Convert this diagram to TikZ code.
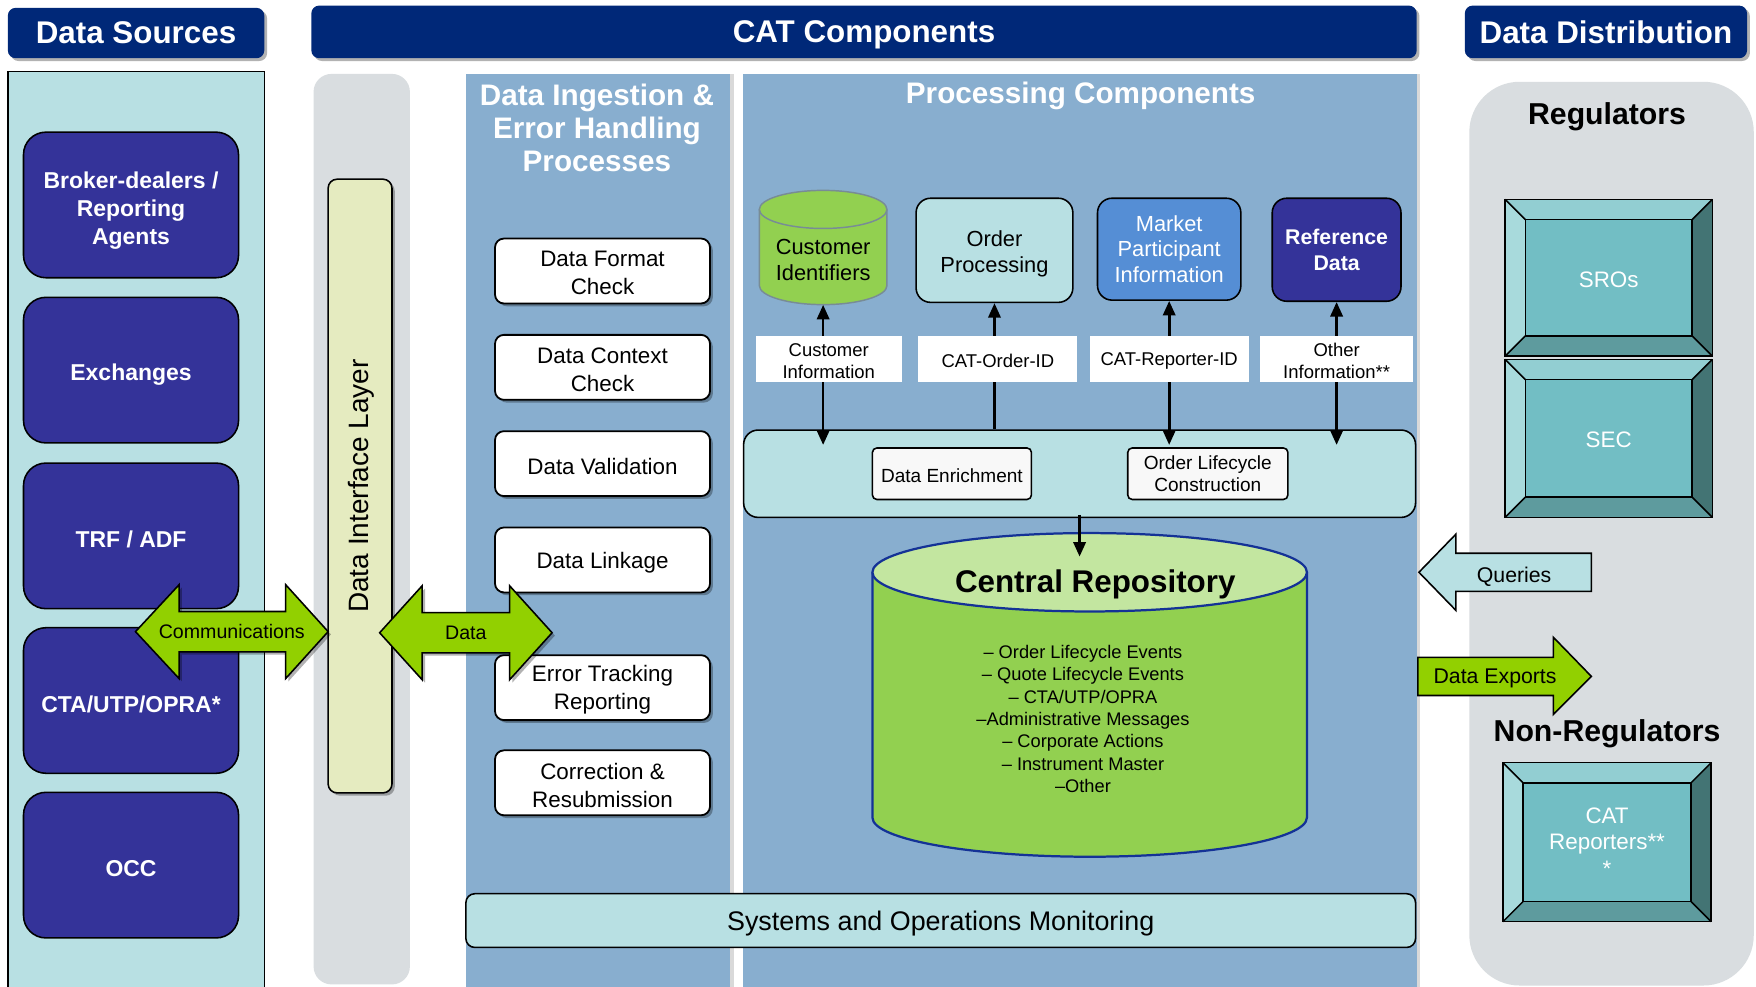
\documentclass[tikz,border=0pt]{standalone}
\usepackage{fontspec}
\setmainfont{Liberation Sans}
\usetikzlibrary{shadows,arrows.meta,calc}

\definecolor{hdrblue}{RGB}{0,40,120}
\definecolor{srcblue}{RGB}{52,51,153}
\definecolor{lcyan}{RGB}{184,224,227}
\definecolor{panelblue}{RGB}{136,174,207}
\definecolor{grayband}{RGB}{217,221,224}
\definecolor{dilfill}{RGB}{229,235,192}
\definecolor{arrgreen}{RGB}{146,208,0}
\definecolor{cgreen}{RGB}{146,208,80}
\definecolor{ctop}{RGB}{195,230,160}
\definecolor{cborder}{RGB}{20,50,150}
\definecolor{mpblue}{RGB}{85,142,213}
\definecolor{bvin}{RGB}{114,190,196}
\definecolor{bvtop}{RGB}{146,206,210}
\definecolor{bvleft}{RGB}{168,218,220}
\definecolor{bvright}{RGB}{67,116,116}
\definecolor{bvbot}{RGB}{94,155,158}
\definecolor{cylborder}{RGB}{120,140,150}
\definecolor{inbox}{RGB}{248,248,248}

% bevel frame: x1 y1 x2 y2
\newcommand{\mybevelframe}[4]{%
  \fill[bvtop] (#1,#2) -- (#3,#2) -- ({#3-18},{#2+18}) -- ({#1+18},{#2+18}) -- cycle;
  \fill[bvbot] (#1,#4) -- (#3,#4) -- ({#3-18},{#4-18}) -- ({#1+18},{#4-18}) -- cycle;
  \fill[bvleft] (#1,#2) -- ({#1+18},{#2+18}) -- ({#1+18},{#4-18}) -- (#1,#4) -- cycle;
  \fill[bvright] (#3,#2) -- ({#3-18},{#2+18}) -- ({#3-18},{#4-18}) -- (#3,#4) -- cycle;
  \draw[line width=1.4pt] (#1,#2) rectangle (#3,#4);
  \draw[line width=1.4pt] (#1,#2) -- ({#1+18},{#2+18}) (#3,#2) -- ({#3-18},{#2+18})
        (#1,#4) -- ({#1+18},{#4-18}) (#3,#4) -- ({#3-18},{#4-18});
}

\begin{document}
\begin{tikzpicture}[x=1pt,y=-1pt,
  shd/.style={drop shadow={shadow xshift=2.5pt,shadow yshift=-2.5pt,fill=black,opacity=0.3}},
  lshd/.style={drop shadow={shadow xshift=3pt,shadow yshift=0pt,fill=black,opacity=0.15}},
  hdr/.style={fill=hdrblue,rounded corners=7pt,text=white,inner sep=0pt,text depth=0pt,
    font=\bfseries\fontsize{28}{32}\selectfont,shd},
  srcbox/.style={fill=srcblue,draw=black,line width=1.4pt,rounded corners=20pt,text=white,
    align=center,inner sep=0pt,minimum width=192pt,minimum height=130pt,
    font=\bfseries\fontsize{20.5}{25}\selectfont},
  srclbl/.style={text=white,align=center,inner sep=0pt,font=\bfseries\fontsize{20.5}{25}\selectfont},
  ingbox/.style={fill=white,draw=black,line width=1.6pt,rounded corners=8pt,align=center,
    inner sep=0pt,minimum width=192pt,minimum height=58pt,
    font=\fontsize{20}{25}\selectfont,shd},
  inglbl/.style={align=center,inner sep=0pt,yshift=-2pt,font=\fontsize{20}{25}\selectfont},
  ptitle/.style={text=white,align=center,font=\bfseries\fontsize{26.5}{29.5}\selectfont},
  procbox/.style={draw=black,line width=1.4pt,rounded corners=13pt,align=center,inner sep=0pt,
    font=\fontsize{19.5}{23}\selectfont},
  lbl/.style={fill=white,inner sep=0pt,minimum height=41pt,align=center,
    font=\fontsize{16.5}{19.5}\selectfont},
  lbltxt/.style={align=center,inner sep=0pt,yshift=-2pt,font=\fontsize{16.5}{19.5}\selectfont},
  inbx/.style={fill=inbox,draw=black,line width=1.4pt,rounded corners=4pt,align=center,
    inner sep=0pt,minimum height=46pt,font=\fontsize{17}{19}\selectfont},
  bvtext/.style={fill=bvin,draw=black,line width=1.4pt,inner sep=0pt,text=white,align=center,
    font=\fontsize{20}{24}\selectfont},
  blockarrow/.style={draw=black,line width=1.4pt},
  arrlbl/.style={inner sep=0pt,font=\fontsize{17.5}{20}\selectfont},
  conn/.style={line width=2.4pt,-{Triangle[width=11pt,length=13pt]}},
  dconn/.style={line width=2.4pt,{Triangle[width=11pt,length=13pt]}-{Triangle[width=11pt,length=13pt]}},
  grouptitle/.style={text depth=0pt,font=\bfseries\fontsize{27}{30}\selectfont}
]
\useasboundingbox (0,0) rectangle (1568,881);
\fill[white] (0,0) rectangle (1568,881);

% ---------- headers ----------
\node[hdr,minimum width=229pt,minimum height=45pt] (hsrc) at (121.5,29.5) {Data Sources};
\node[hdr,minimum width=987pt,minimum height=47pt] (hcat) at (771.5,28.5) {CAT  Components};
\node[hdr,minimum width=252pt,minimum height=47pt] (hdist) at (1434,28.5) {Data Distribution};

% ---------- data sources ----------
\draw[fill=lcyan,line width=1.3pt] (7,64) rectangle (236,895);
\node[srcbox,label={[name=bdtext,srclbl,yshift=-5pt]center:{Broker-dealers /\\Reporting\\Agents}}] (bd) at (117,183) {};
\node[srcbox,text height=22pt] (exch) at (117,330.5) {Exchanges};
\node[srcbox,text height=22pt] (trf)  at (117,478.5) {TRF / ADF};
\node[srcbox,text height=22pt] (cta)  at (117,625.5) {CTA/UTP/OPRA*};
\node[srcbox,text height=20pt] (occ)  at (117,772.5) {OCC};

% ---------- data interface layer ----------
\fill[grayband,rounded corners=16pt] (280,66) rectangle (366,879);
\node[fill=dilfill,draw=black,line width=1.4pt,rounded corners=8pt,minimum width=57pt,
  minimum height=548pt,inner sep=0pt,shd] (dil) at (321.5,434) {};
\node[rotate=90,font=\fontsize{25}{28}\selectfont] (diltext) at ([xshift=1pt]dil.center) {Data Interface  Layer};

% ---------- ingestion panel ----------
\fill[panelblue,lshd] (416,66) rectangle (652,895);
\node[ptitle] (ting) at (533,114) {Data Ingestion \&\\Error Handling\\Processes};
\node[ingbox,label={[name=fmtt,inglbl]center:{Data  Format\\Check}}] (fmt) at (538,242) {};
\node[ingbox,label={[name=ctxt,inglbl]center:{Data  Context\\Check}}] (ctx) at (538,328) {};
\node[ingbox,text height=19pt] (val)  at (538,414) {Data  Validation};
\node[ingbox,text height=19pt] (lnk)  at (538,500) {Data  Linkage};
\node[ingbox,label={[name=errt,inglbl]center:{Error  Tracking\\Reporting}}] (err) at (538,614) {};
\node[ingbox,label={[name=corrt,inglbl]center:{Correction  \&\\Resubmission}}] (corr) at (538,699) {};

% ---------- processing panel ----------
\fill[panelblue,lshd] (663,66) rectangle (1265,895);
\node[ptitle,text depth=0pt] (tproc) at (965,83) {Processing Components};

% customer identifiers cylinder
\draw[cylborder,line width=1.3pt,fill=cgreen] (678,187) -- (678,255)
  arc[start angle=180,end angle=360,x radius=57pt,y radius=17pt] -- (792,187);
\draw[cylborder,line width=1.3pt,fill=cgreen] (735,187) ellipse [x radius=57pt,y radius=17pt];
\node[inner sep=0pt,minimum width=114pt,minimum height=80pt,align=center,
  font=\fontsize{19.5}{23}\selectfont] (cust) at (735,232) {Customer\\Identifiers};

\node[procbox,fill=lcyan,minimum width=140pt,minimum height=93pt,
  label={[name=ordpt,align=center,inner sep=0pt,yshift=-3.5pt,font=\fontsize{19.5}{23}\selectfont]center:{Order\\Processing}}] (ordp) at (888,223.5) {};
\node[procbox,fill=mpblue,text=white,minimum width=128pt,minimum height=91pt] (mpi) at (1044,222.5) {Market\\Participant\\Information};
\node[procbox,fill=srcblue,text=white,minimum width=115pt,minimum height=92pt,
  font=\bfseries\fontsize{19}{23}\selectfont] (ref) at (1193.5,223) {Reference\\Data};

% enrichment bar
\node[fill=lcyan,draw=black,line width=1.4pt,rounded corners=13pt,minimum width=600pt,
  minimum height=78pt,inner sep=0pt] (bar) at (964,423) {};
\node[inbx,minimum width=142pt,text height=15pt] (enr) at (850,423) {Data Enrichment};
\node[inbx,minimum width=143pt] (olc) at (1078.5,423) {Order Lifecycle\\Construction};

% connectors
\coordinate (ciend) at ($(bar.north -| cust.south)+(0,14)$);
\coordinate (rpend) at ($(bar.north -| mpi.south)+(0,14)$);
\coordinate (oiend) at ($(bar.north -| ref.south)+(0,14)$);
\draw[dconn] (cust.south) -- (ciend);
\draw[conn] (bar.north -| ordp.south) -- (ordp.south);
\draw[dconn] (mpi.south) -- (rpend);
\draw[dconn] (ref.south) -- (oiend);

\node[lbl,minimum width=130pt,label={[name=custinfot,lbltxt]center:{Customer\\Information}}] (custinfo) at (740,320.5) {};
\node[lbl,minimum width=142pt,text height=15.5pt] (orderid) at (891,320.5) {CAT-Order-ID};
\node[lbl,minimum width=142pt,text height=15.5pt] (repid) at (1044,320.5) {CAT-Reporter-ID};
\node[lbl,minimum width=137pt,label={[name=othinfot,lbltxt]center:{Other\\Information**}}] (othinfo) at (1193.5,320.5) {};

% central repository
\draw[cborder,line width=2pt,fill=cgreen] (779,511) -- (779,730)
  arc[start angle=180,end angle=360,x radius=194pt,y radius=35pt] -- (1167,511);
\draw[cborder,line width=2pt,fill=ctop] (973,511) ellipse [x radius=194pt,y radius=35pt];
\node[inner sep=0pt,text depth=0pt,font=\bfseries\fontsize{28}{32}\selectfont] (crepo) at (978,519) {Central Repository};
\node[inner sep=0pt,align=center,font=\fontsize{16.3}{20}\selectfont] (crlist) at (967,642)
  {– Order Lifecycle Events\\– Quote Lifecycle Events\\– CTA/UTP/OPRA\\–Administrative Messages\\– Corporate Actions\\– Instrument Master\\–Other};
\coordinate (crin) at (964,497);
\draw[conn] ([yshift=3pt]bar.south) -- (crin);

% systems monitoring
\node[fill=lcyan,draw=black,line width=1.4pt,rounded corners=8pt,minimum width=848pt,
  minimum height=48pt,inner sep=0pt,text depth=0pt,font=\fontsize{24}{28}\selectfont] (som) at (840,822)
  {Systems and Operations Monitoring};

% ---------- distribution ----------
\fill[grayband,rounded corners=45pt] (1312,73) rectangle (1566,880);
\node[grouptitle] (reg) at (1435,101) {Regulators};
\mybevelframe{1344}{178}{1529}{318}
\node[bvtext,minimum width=149pt,minimum height=104pt,text height=17pt] (sro) at (1436.5,248) {SROs};
\mybevelframe{1344}{321}{1529}{462}
\node[bvtext,minimum width=149pt,minimum height=105pt,text height=17pt] (sec) at (1436.5,391.5) {SEC};
\node[grouptitle] (nonreg) at (1435,652) {Non-Regulators};
\mybevelframe{1342}{681}{1528}{823}
\node[bvtext,minimum width=150pt,minimum height=106pt] (catrep) at (1435,752) {CAT\\Reporters**\\*};

% ---------- block arrows ----------
\draw[blockarrow,fill=arrgreen,shd] (121,564) -- (160,522) -- (160,546) -- (255,546) -- (255,522)
  -- (293,564) -- (255,606) -- (255,582) -- (160,582) -- (160,606) -- cycle;
\node[arrlbl] (comm) at (207,564) {Communications};
\draw[blockarrow,fill=arrgreen,shd] (339,565) -- (377,523) -- (377,547) -- (455,547) -- (455,523)
  -- (493,565) -- (455,607) -- (455,583) -- (377,583) -- (377,607) -- cycle;
\node[arrlbl] (data) at (416,565) {Data};
\draw[blockarrow,fill=lcyan] (1267,511) -- (1300,477) -- (1300,494) -- (1421,494) -- (1421,528)
  -- (1300,528) -- (1300,545) -- cycle;
\node[arrlbl,text depth=0pt,font=\fontsize{19}{22}\selectfont] (qry) at (1352,513) {Queries};
\draw[blockarrow,fill=arrgreen] (1266,587) -- (1387,587) -- (1387,569) -- (1421,604) -- (1387,638)
  -- (1387,621) -- (1266,621) -- cycle;
\node[arrlbl,text depth=0pt,font=\fontsize{19}{22}\selectfont] (dexp) at (1335,604) {Data Exports};
\end{tikzpicture}
\end{document}
